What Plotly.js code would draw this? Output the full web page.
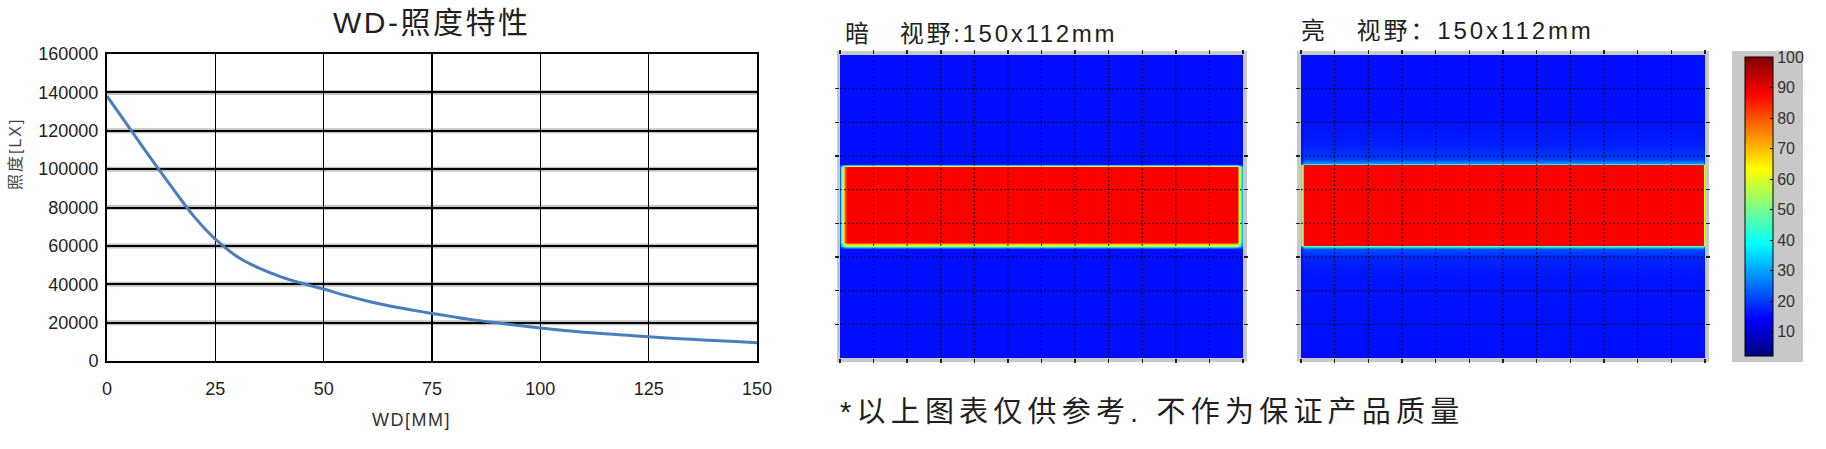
<!DOCTYPE html>
<html>
<head>
<meta charset="utf-8">
<script src="https://cdn.plot.ly/plotly-3.0.1.min.js"></script>
<style>
  html, body { margin: 0; padding: 0; background: #fff; }
  #chart { width: 1826px; height: 449px; }
</style>
</head>
<body>
<div id="chart"></div>
<script>
// ---------------- data ----------------
// WD - illuminance curve (mm, lx)
const wdMM = [0, 5, 10, 15, 20, 25, 30, 35, 40, 45, 50, 55, 60, 65, 70, 75, 80, 85, 90, 95, 100, 105, 110, 115, 120, 125, 130, 135, 140, 145, 150];
const luxValues = [138000, 122000, 106000, 90500, 75500, 63500, 54500, 48500, 44000, 40500, 37500, 34200, 31300, 28800, 26700, 24800, 23000, 21300, 19900, 18500, 17200, 16000, 15000, 14200, 13400, 12600, 11900, 11300, 10700, 10100, 9500];
const xTickVals = [0, 25, 50, 75, 100, 125, 150];
const yTickVals = [0, 20000, 40000, 60000, 80000, 100000, 120000, 140000, 160000];

// heat map "暗" (dark field) - profiles of relative intensity (%)
const darkX = [0, 0.5, 1.2, 2.0, 2.6, 147.6, 148.2, 148.8, 149.4, 150];
const darkCol = [24, 40, 62, 80, 88, 88, 75, 55, 38, 28];
const darkY = [0, 40.5, 41.2, 41.7, 42.3, 43.0, 71.0, 71.4, 71.8, 72.2, 112.5];
const darkRow = [15.5, 15.5, 35, 55, 70, 88, 88, 60, 35, 15.5, 15.5];

// heat map "亮" (bright field)
const brightX = [0, 0.4, 1.0, 149.2, 149.6, 150];
const brightCol = [40, 55, 88, 88, 60, 45];
const brightY = [0, 30, 38, 40.5, 41.2, 41.6, 42.0, 71.6, 72.0, 72.4, 74, 80, 90, 112.5];
const brightRow = [15.5, 16, 18, 22, 35, 50, 88, 88, 40, 28, 20, 17, 15.5, 15.5];

const heatBase = 15.5;
const heatPeak = 88;
const colorbarTicks = [10, 20, 30, 40, 50, 60, 70, 80, 90, 100];

// ---------------- helpers ----------------
const W = 1826, H = 449;
const px = v => v / W;
const py = v => 1 - v / H;

function buildZ(ys, rows, xs, cols) {
  return ys.map((y, i) => xs.map((x, j) =>
    heatBase + (rows[i] - heatBase) * (cols[j] - heatBase) / (heatPeak - heatBase)));
}

// MATLAB style jet
const jet = [
  [0, '#00007f'], [0.125, '#0000ff'], [0.375, '#00ffff'],
  [0.625, '#ffff00'], [0.875, '#ff0000'], [1, '#7f0000']
];

const FONT = 'Liberation Sans, Arial, Noto Sans CJK SC, sans-serif';
const TXT = '#231f20';

const traces = [
  {
    type: 'scatter', mode: 'lines', x: wdMM, y: luxValues,
    line: { color: '#4a7ebb', width: 3, shape: 'spline' },
    xaxis: 'x', yaxis: 'y', hoverinfo: 'skip'
  },
  {
    type: 'heatmap', x: darkX, y: darkY, z: buildZ(darkY, darkRow, darkX, darkCol),
    colorscale: jet, zmin: 2, zmax: 100, zsmooth: 'best', showscale: false,
    xaxis: 'x2', yaxis: 'y2', hoverinfo: 'skip'
  },
  {
    type: 'heatmap', x: brightX, y: brightY, z: buildZ(brightY, brightRow, brightX, brightCol),
    colorscale: jet, zmin: 2, zmax: 100, zsmooth: 'best', showscale: true,
    xaxis: 'x3', yaxis: 'y3', hoverinfo: 'skip',
    colorbar: {
      x: px(1745), xanchor: 'left', y: py(206.5), yanchor: 'middle',
      thickness: 28, thicknessmode: 'pixels', len: 299, lenmode: 'pixels',
      xpad: 0, ypad: 0, outlinewidth: 1, outlinecolor: '#000',
      bgcolor: 'rgba(0,0,0,0)', tickvals: colorbarTicks, ticks: 'inside',
      ticklen: 3, tickcolor: '#000', tickfont: { family: FONT, size: 16, color: '#333' }
    }
  }
];

// heat map axes
const heatTicksX = [];
for (let v = 0; v <= 150; v += 12.5) heatTicksX.push(v);
const heatTicksY = [];
for (let v = 12.5; v < 112.5; v += 12.5) heatTicksY.push(v);

function heatAxis(domain, range, ticks) {
  return {
    domain: domain, range: range, showticklabels: false, showgrid: false, zeroline: false,
    ticks: 'outside', ticklen: 4, tickwidth: 1.5, tickcolor: '#222', tickvals: ticks,
    showline: true, linecolor: '#c8c8c8', linewidth: 1, mirror: 'ticks', fixedrange: true
  };
}

const shapes = [
  // gray frames
  { type: 'rect', xref: 'paper', yref: 'paper', x0: px(837), x1: px(1247), y0: py(362), y1: py(51),
    fillcolor: '#c8c8c8', line: { width: 0 }, layer: 'below' },
  { type: 'rect', xref: 'paper', yref: 'paper', x0: px(1297), x1: px(1709), y0: py(362), y1: py(51),
    fillcolor: '#c8c8c8', line: { width: 0 }, layer: 'below' },
  { type: 'rect', xref: 'paper', yref: 'paper', x0: px(1732), x1: px(1803), y0: py(362), y1: py(51),
    fillcolor: '#c8c8c8', line: { width: 0 }, layer: 'below' }
];
['2', '3'].forEach(s => {
  heatTicksX.slice(1, -1).forEach(v => shapes.push({
    type: 'line', xref: 'x' + s, yref: 'y' + s, x0: v, x1: v, y0: 0, y1: 112.5, layer: 'above',
    line: { color: 'rgba(0,0,0,0.85)', width: 1, dash: '2px,2px' }
  }));
  heatTicksY.forEach(v => shapes.push({
    type: 'line', xref: 'x' + s, yref: 'y' + s, x0: 0, x1: 150, y0: v, y1: v, layer: 'above',
    line: { color: 'rgba(0,0,0,0.85)', width: 1, dash: '2px,2px' }
  }));
});
// soft shadow under horizontal grid lines of the line chart
yTickVals.slice(1, -1).forEach(v => shapes.push({
  type: 'line', xref: 'x', yref: 'y', x0: 0, x1: 150, y0: v, y1: v, layer: 'below',
  line: { color: 'rgba(120,120,120,0.45)', width: 5 }
}));

const annotations = [
  { text: 'WD-照度特性', x: px(331), y: py(23), size: 30, spacing: 2.5 },
  { text: '照度[LX]', x: px(15), y: py(160), size: 16, spacing: 2, angle: -90, color: '#444' },
  { text: 'WD[MM]', x: px(370), y: py(420), size: 18, spacing: 1.5, color: '#333' },
  { text: '暗\u00a0\u00a0\u00a0视野:150x112mm', x: px(843), y: py(33), size: 24, spacing: 2.7 },
  { text: '亮\u00a0\u00a0\u00a0视野：150x112mm', x: px(1299), y: py(31), size: 24, spacing: 2.9 },
  { text: '*以上图表仅供参考. 不作为保证产品质量', x: px(838), y: py(412), size: 29, spacing: 5.2 }
];

const layout = {
  width: W, height: H,
  margin: { l: 0, r: 0, t: 0, b: 0 },
  paper_bgcolor: '#fff', plot_bgcolor: 'rgba(0,0,0,0)',
  showlegend: false,
  font: { family: FONT, color: TXT },
  xaxis: {
    domain: [px(107), px(757)], range: [0, 150], tickvals: xTickVals,
    showgrid: true, gridcolor: '#000', gridwidth: 1.5, zeroline: false,
    showline: true, mirror: true, linecolor: '#000', linewidth: 2,
    ticks: '', ticklabelstandoff: 10, tickfont: { family: FONT, size: 18, color: TXT }, fixedrange: true
  },
  yaxis: {
    domain: [py(361), py(54)], range: [0, 160000], tickvals: yTickVals, tickformat: 'd',
    showgrid: true, gridcolor: '#000', gridwidth: 2, zeroline: false,
    showline: true, mirror: true, linecolor: '#000', linewidth: 2,
    ticks: '', ticklabelstandoff: 3, tickfont: { family: FONT, size: 18, color: TXT }, fixedrange: true
  },
  xaxis2: Object.assign(heatAxis([px(840), px(1243)], [0, 150], heatTicksX), { anchor: 'y2' }),
  yaxis2: Object.assign(heatAxis([py(358), py(55)], [0, 112.5], heatTicksY), { anchor: 'x2' }),
  xaxis3: Object.assign(heatAxis([px(1301), px(1705)], [0, 150], heatTicksX), { anchor: 'y3' }),
  yaxis3: Object.assign(heatAxis([py(358), py(55)], [0, 112.5], heatTicksY), { anchor: 'x3' }),
  shapes: shapes,
  annotations: annotations.map(a => ({
    text: a.text, xref: 'paper', yref: 'paper', x: a.x, y: a.y,
    xanchor: a.angle ? 'center' : 'left', yanchor: 'middle', align: 'left',
    textangle: a.angle || 0, showarrow: false,
    font: { family: FONT, size: a.size, color: a.color || TXT }
  }))
};

const gd = document.getElementById('chart');
Plotly.newPlot(gd, traces, layout, { staticPlot: true, displayModeBar: false }).then(() => {
  gd.querySelectorAll('.annotation').forEach(g => {
    const idx = +g.getAttribute('data-index');
    const a = annotations[idx];
    const t = g.querySelector('.annotation-text');
    if (a && t) t.style.letterSpacing = a.spacing + 'px';
  });
});
</script>
</body>
</html>
